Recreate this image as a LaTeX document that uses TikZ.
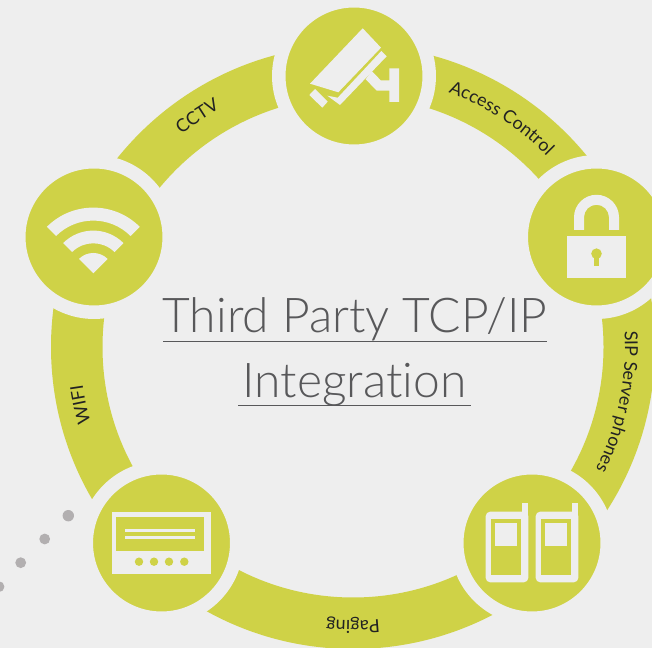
\documentclass[tikz,border=0pt]{standalone}
\usepackage{fontspec}
\setmainfont{Lato}
\newfontfamily\titlefont[Ligatures = NoCommon]{Lato Light}
\newfontfamily\labelfont{Lato}
\usepackage{color}
\usepackage{tikz}
\usetikzlibrary{decorations.text}
\definecolor{bgpale}{HTML}{EEEEEE}
\definecolor{olivefill}{HTML}{CFD247}
\definecolor{dotgrey}{HTML}{B2AFB0}
\definecolor{titlegrey}{HTML}{58585A}
\definecolor{labelink}{HTML}{222222}
\tikzset{
    hub/.style = {circle, fill = olivefill, draw = bgpale, line width = 0.27cm, minimum size = 3.01cm, inner sep = 0pt},
    titletext/.style = {font = \titlefont\fontsize{27.3}{27.3}\selectfont, text = titlegrey, inner sep = 0pt, anchor = base},
    titlerule/.style = {draw = titlegrey, line width = 0.5pt},
    labelarc/.style = {decorate, decoration = {text along path, text = {|\labelfont\fontsize{10.2}{10.2}\selectfont\color{labelink}|#1}, text align = center}}
}
\begin{document}
\begin{tikzpicture}[x = 0.02cm, y = 0.02cm]
                \clip (0, 0) rectangle (652, 648);
                \fill[bgpale] (0, 0) rectangle (652, 648);
                \coordinate (ringcentre) at (353, 301);
                \fill[olivefill, even odd rule] (ringcentre) circle (302) circle (250.5);

                \node[hub] (hubcctv) at (354, 572) {};
                \node[hub] (hublock) at (596.5, 411) {};
                \node[hub] (hubphones) at (532, 105) {};
                \node[hub] (hubpager) at (161.5, 105) {};
                \node[hub] (hubwifi) at (94, 411) {};

                % labels on the ring
                \path[labelarc = {CCTV}] ([shift = {(164:273)}]ringcentre) arc[start angle = 164, end angle = 84, radius = 273];
                \path[labelarc = {Access Control}] ([shift = {(97:272)}]ringcentre) arc[start angle = 97, end angle = 17, radius = 272];
                \path[labelarc = {SIP Server phones}] ([shift = {(28.3:272)}]ringcentre) arc[start angle = 28.3, end angle = -51.7, radius = 272];
                \path[labelarc = {Paging}] ([shift = {(-50:274)}]ringcentre) arc[start angle = -50, end angle = -130, radius = 274];
                \path[labelarc = {WIFI}] ([shift = {(232:273)}]ringcentre) arc[start angle = 232, end angle = 152, radius = 273];

                % camera
                \begin{scope}[shift = {(hubcctv.center)}]
                    \fill[bgpale] (8.7, 47.7) -- (27, 28.3) -- (-15.7, -16.3) -- (-44, -7.7) -- cycle;
                    \fill[bgpale] (27.3, 25) -- (32.7, 19.7) -- (-14, -29) -- (-26.7, -19.7) -- (-16.3, -21.7) -- cycle;
                    \fill[bgpale] (-39, -13) -- (-26.3, -25.7) -- (-31.7, -31.7) -- (-44.7, -19) -- cycle;
                    \fill[bgpale] (17.7, 5) -- (26.7, -4.3) -- (35.3, -4.3) -- (35.3, 7.7) -- (45, 7.7) -- (45, -26) -- (35.3, -26) -- (35.3, -14.7) -- (22.7, -14.7) -- (11.7, -3.3) -- cycle;
                \end{scope}

                % padlock
                \begin{scope}[shift = {(hublock.center)}]
                    \fill[bgpale] (-29.8, 1) rectangle (29.8, -41.3);
                    \fill[bgpale] (-22.5, 7) -- (-22.5, 19.7) arc[start angle = 180, end angle = 0, radius = 22.5] -- (22.5, 7) -- (12.5, 7) -- (12.5, 19.7) arc[start angle = 0, end angle = 180, radius = 12.5] -- (-12.5, 7) -- cycle;
                    \fill[olivefill] (0, -16.7) circle (5.3);
                    \fill[olivefill] (-2.5, -16.7) rectangle (2.5, -28.7);
                \end{scope}

                % two handsets
                \begin{scope}[shift = {(hubphones.center)}]
                    \foreach \phoneshift in {0, 50} {
                        \begin{scope}[xshift = \phoneshift * 0.02cm]
                            \fill[bgpale, rounded corners = 2.5] (-46.3, 31.3) rectangle (-3.7, -39.3);
                            \fill[bgpale] (-10.3, 20) rectangle (-3.7, 40.3);
                            \fill[olivefill] (-41, 24) rectangle (-10.7, -32.3);
                            \fill[bgpale] (-36.7, 20.3) rectangle (-15.3, -3);
                        \end{scope}
                    }
                \end{scope}

                % paging panel
                \begin{scope}[shift = {(hubpager.center)}]
                    \fill[bgpale] (-49.2, 31) rectangle (49.5, -30.7);
                    \fill[olivefill] (-45.2, 25.7) rectangle (42.5, -7.7);
                    \fill[bgpale] (-36.5, 14) rectangle (33.8, 11);
                    \fill[bgpale] (-36.5, 7.3) rectangle (33.8, 4);
                    \foreach \buttonx in {-22.5, -7.5, 7.5, 22.8} {
                        \fill[olivefill] (\buttonx, -18.7) circle (4.2);
                    }
                \end{scope}

                % wifi fans
                \begin{scope}[shift = {(hubwifi.center)}, shift = {(-0.7, -36.3)}]
                    \fill[bgpale] (45:65.7) arc[start angle = 45, end angle = 135, radius = 65.7] -- (135:52.7) arc[start angle = 135, end angle = 45, radius = 52.7] -- cycle;
                    \fill[bgpale] (45:42.7) arc[start angle = 45, end angle = 135, radius = 42.7] -- (135:30) arc[start angle = 135, end angle = 45, radius = 30] -- cycle;
                    \fill[bgpale] (0, 0) -- (45:20.3) arc[start angle = 45, end angle = 135, radius = 20.3] -- cycle;
                \end{scope}

                \foreach \dotx/\doty/\dotr in {68.3/132.3/5.7, 44.7/109/5.4, 20.7/85.3/5.4, -1/61.3/5.4} {
                    \fill[dotgrey] (\dotx, \doty) circle (\dotr);
                }

                \node[titletext] (titleone) at (355, 315) {Third Party TCP/IP};
                \node[titletext] (titletwo) at (354.5, 250) {Integration};
                \coordinate (ruleoneleft) at (163, 307);
                \coordinate (ruleoneright) at (547, 307);
                \coordinate (ruletwoleft) at (238, 242.7);
                \coordinate (ruletworight) at (471, 242.7);
                \draw[titlerule] (ruleoneleft) -- (ruleoneright);
                \draw[titlerule] (ruletwoleft) -- (ruletworight);
            \end{tikzpicture}
\end{document}
